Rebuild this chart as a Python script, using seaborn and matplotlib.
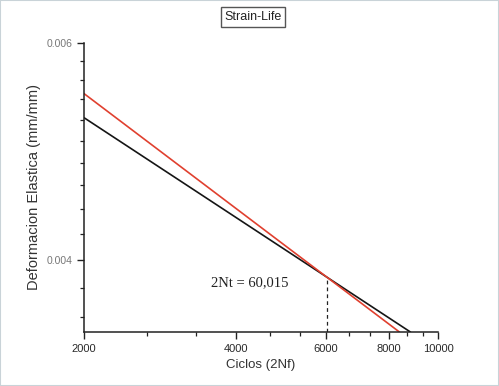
#!/usr/bin/env python3
from matplotlib.ticker import FixedLocator, FormatStrFormatter, NullFormatter
import matplotlib.patches as mpatches
import pandas as pd
import seaborn as sns
import matplotlib.pyplot as plt

# values (log-log axes)
ciclos_negro = [2000, 8820]
deform_negro = [0.00522, 0.00350]
ciclos_rojo = [2000, 8390]
deform_rojo = [0.00546, 0.00350]
ciclos_2nt = [6050, 6050]
deform_2nt = [0.00350, 0.00387]
x_major = [2000, 4000, 6000, 8000, 10000]
x_minor = [2667, 3333, 4667, 5333, 6667, 7333, 8667, 9333]
y_major = [0.004, 0.006]
y_minor = [0.0036, 0.0038, 0.0042, 0.0044, 0.0046, 0.0048, 0.0050,
           0.0052, 0.0054, 0.0056, 0.0058]


def main():
    sns.set_style("ticks")
    plt.rcParams["font.family"] = ["Liberation Sans", "DejaVu Sans"]

    df = pd.concat([
        pd.DataFrame({"ciclos": ciclos_negro, "deform": deform_negro, "serie": "negro"}),
        pd.DataFrame({"ciclos": ciclos_rojo, "deform": deform_rojo, "serie": "rojo"}),
    ])

    fig = plt.figure(figsize=(4.99, 3.86), dpi=100)
    ax = fig.add_axes([0.1683, 0.1399, 0.7095, 0.7487])
    sns.lineplot(data=df, x="ciclos", y="deform", hue="serie",
                 palette={"negro": "#151515", "rojo": "#e0402f"},
                 linewidth=1.2, legend=False, ax=ax)
    ax.plot(ciclos_2nt, deform_2nt, color="#222222", linewidth=0.9,
            linestyle=(0, (3, 2.5)))

    ax.set_xscale("log")
    ax.set_yscale("log")
    ax.set_xlim(2000, 10000)
    ax.set_ylim(0.0035, 0.006)

    ax.xaxis.set_major_locator(FixedLocator(x_major))
    ax.xaxis.set_minor_locator(FixedLocator(x_minor))
    ax.xaxis.set_major_formatter(FormatStrFormatter("%d"))
    ax.xaxis.set_minor_formatter(NullFormatter())
    ax.yaxis.set_major_locator(FixedLocator(y_major))
    ax.yaxis.set_minor_locator(FixedLocator(y_minor))
    ax.yaxis.set_major_formatter(FormatStrFormatter("%.3f"))
    ax.yaxis.set_minor_formatter(NullFormatter())

    ax.tick_params(which="major", length=5, width=1.0, color="#222222")
    ax.tick_params(which="minor", length=3, width=0.9, color="#222222")
    ax.tick_params(axis="x", which="major", labelsize=8, labelcolor="#2a2a2a", pad=4)
    ax.tick_params(axis="y", which="major", labelsize=7.5, labelcolor="#777777", pad=3)
    for s in ("left", "bottom"):
        ax.spines[s].set_linewidth(1.1)
        ax.spines[s].set_color("#222222")
    sns.despine(ax=ax)

    ax.set_xlabel("Ciclos (2Nf)", fontsize=9.5, color="#333333", labelpad=3)
    ax.set_ylabel("Deformacion Elastica (mm/mm)", fontsize=10.5, color="#333333", labelpad=4)

    ax.text(3565, 0.00384, "2Nt = 60,015", fontsize=10.5, ha="left", va="center",
            family=["Liberation Serif", "DejaVu Serif"], color="#222222")

    fig.text(253 / 499, 1 - 17 / 386, "Strain-Life", fontsize=9, ha="center", va="center",
             color="#222222",
             bbox=dict(boxstyle="square,pad=0.3", facecolor="white", edgecolor="#555555",
                       linewidth=1.0))

    fig.patches.append(mpatches.Rectangle((0, 0), 1, 1, transform=fig.transFigure,
                                          fill=False, edgecolor="#c9d3d8", linewidth=1.5))

    fig.savefig("out.png", dpi=100)


if __name__ == "__main__":
    main()
